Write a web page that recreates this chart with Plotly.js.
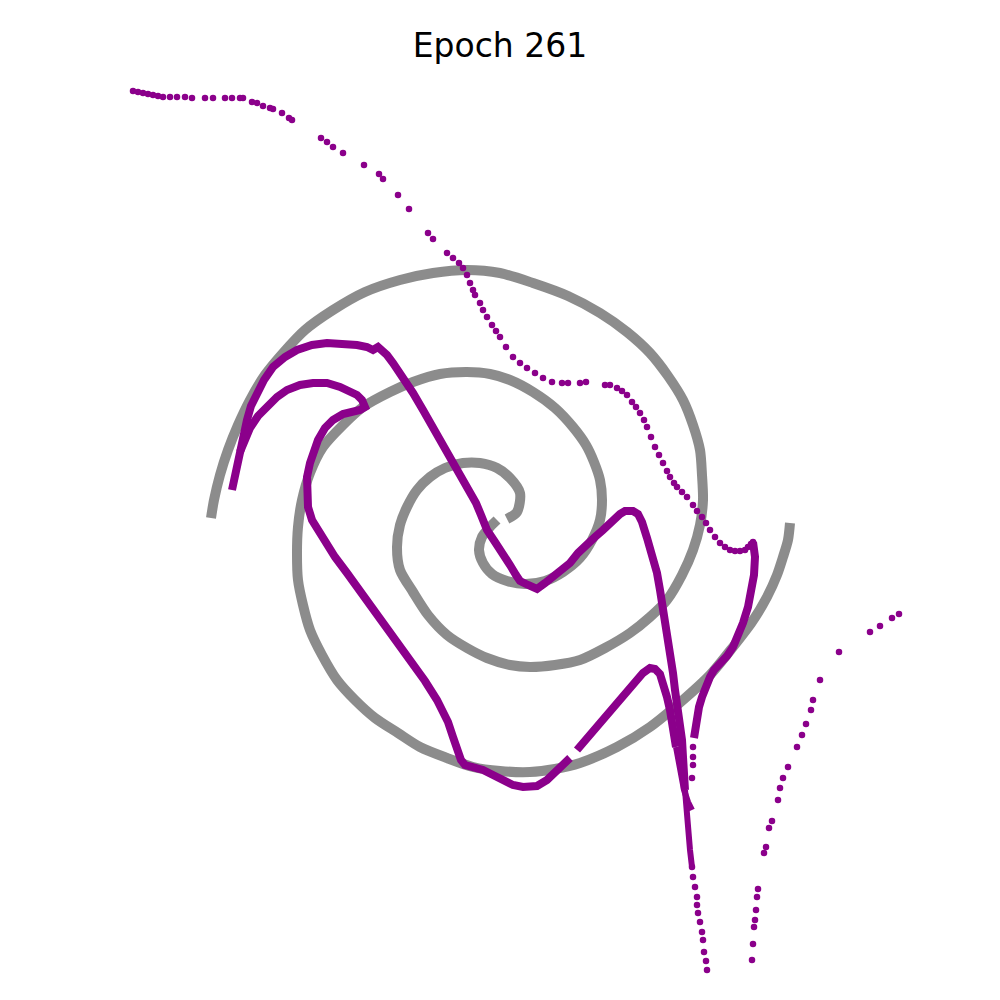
<!DOCTYPE html>
<html>
<head>
<meta charset="utf-8">
<script src="https://cdn.plot.ly/plotly-2.35.2.min.js"></script>
<style>html,body{margin:0;padding:0;background:#fff;}#chart{width:1000px;height:1000px;}</style>
</head>
<body>
<div id="chart"></div>
<script>
// ---- Data ----
const titleText = "Epoch 261";

// Gray spiral, arm A (center -> outer left end)
const armAx = [0.07,0.17,0.20,0.10,-0.03,-0.20,-0.37,-0.55,-0.70,-0.83,-0.93,-1.00,-1.03,-1.00,-0.87,-0.72,-0.53,-0.33,-0.13,0.10,0.30,0.55,0.80,1.05,1.30,1.50,1.67,1.82,1.93,2.00,2.03,2.02,2.00,1.93,1.83,1.68,1.50,1.27,1.00,0.68,0.33,0.00,-0.33,-0.67,-1.00,-1.35,-1.67,-1.95,-2.17,-2.35,-2.50,-2.62,-2.72,-2.80,-2.86,-2.89];
const armAy = [-0.19,-0.12,0.07,0.22,0.32,0.37,0.37,0.32,0.23,0.10,-0.07,-0.25,-0.47,-0.70,-0.92,-1.15,-1.35,-1.48,-1.58,-1.65,-1.67,-1.65,-1.60,-1.48,-1.33,-1.17,-1.00,-0.75,-0.50,-0.25,0.00,0.25,0.50,0.75,1.00,1.24,1.47,1.68,1.87,2.04,2.17,2.27,2.30,2.27,2.20,2.08,1.90,1.70,1.47,1.25,1.00,0.75,0.50,0.25,0.00,-0.18];

// Gray spiral, arm B (center -> outer right end)
const armBx = [-0.03,-0.10,-0.18,-0.21,-0.17,-0.08,0.07,0.25,0.45,0.63,0.80,0.92,1.00,1.02,1.00,0.94,0.86,0.73,0.55,0.33,0.10,-0.10,-0.33,-0.60,-0.87,-1.10,-1.37,-1.57,-1.77,-1.90,-1.98,-2.02,-2.03,-2.02,-1.97,-1.90,-1.78,-1.63,-1.45,-1.25,-1.02,-0.80,-0.53,-0.27,0.00,0.30,0.55,0.80,1.17,1.50,1.83,2.10,2.33,2.52,2.67,2.77,2.83,2.88,2.90];
const armBy = [-0.20,-0.27,-0.37,-0.50,-0.63,-0.74,-0.81,-0.84,-0.81,-0.72,-0.58,-0.40,-0.20,0.00,0.20,0.38,0.55,0.73,0.92,1.08,1.20,1.26,1.28,1.26,1.18,1.08,0.93,0.75,0.53,0.27,0.00,-0.27,-0.53,-0.80,-1.05,-1.30,-1.55,-1.80,-2.00,-2.18,-2.33,-2.47,-2.58,-2.67,-2.71,-2.72,-2.69,-2.63,-2.47,-2.27,-2.00,-1.75,-1.47,-1.22,-0.97,-0.75,-0.57,-0.40,-0.23];

// Purple output: sparse top trail (dots)
const trailX = [-3.67,-3.62,-3.57,-3.52,-3.47,-3.42,-3.37,-3.30,-3.23,-3.15,-3.08,-2.95,-2.87,-2.75,-2.68,-2.60,-2.57,-2.48,-2.43,-2.37,-2.30,-2.27,-2.18,-2.11,-2.08,-1.79,-1.73,-1.67,-1.57,-1.36,-1.21,-1.17,-1.02,-0.91,-0.72,-0.67,-0.53,-0.47,-0.41,-0.37,-0.33,-0.30,-0.27,-0.25,-0.20,-0.17,-0.13,-0.08,-0.04,0.00,0.06,0.13,0.20,0.27,0.35,0.43,0.52,0.62,0.68,0.80,0.86,1.05,1.10,1.17,1.22,1.27,1.32,1.36,1.40,1.44,1.47,1.51,1.55,1.59,1.63,1.67,1.70,1.74,1.77,1.82,1.87,1.93,1.97,2.02,2.06,2.10,2.15,2.20,2.25,2.30,2.35,2.40,2.45,2.48,2.51,2.53];
const trailY = [4.09,4.08,4.07,4.06,4.05,4.04,4.03,4.03,4.03,4.03,4.02,4.02,4.02,4.02,4.02,4.02,4.02,3.98,3.97,3.94,3.92,3.91,3.87,3.82,3.80,3.62,3.58,3.53,3.47,3.35,3.26,3.21,3.05,2.91,2.67,2.61,2.47,2.42,2.37,2.32,2.25,2.17,2.10,2.05,1.97,1.90,1.83,1.75,1.69,1.63,1.53,1.43,1.37,1.32,1.27,1.22,1.18,1.17,1.17,1.17,1.18,1.15,1.15,1.12,1.09,1.05,0.98,0.93,0.87,0.80,0.73,0.63,0.53,0.45,0.37,0.29,0.23,0.17,0.13,0.08,0.03,-0.05,-0.11,-0.17,-0.23,-0.30,-0.37,-0.43,-0.47,-0.50,-0.51,-0.51,-0.50,-0.47,-0.44,-0.42];

// Purple: hook stroke (dense) and its dotted tail
const hookX = [2.53,2.55,2.54,2.52,2.48,2.43,2.38,2.33,2.27,2.20,2.14,2.10,2.05,2.02,1.99,1.97,1.95,1.94];
const hookY = [-0.42,-0.57,-0.75,-0.90,-1.07,-1.23,-1.37,-1.47,-1.56,-1.63,-1.70,-1.77,-1.87,-1.97,-2.07,-2.17,-2.30,-2.38];
const hookTailX = [1.93,1.93,1.93,1.92];
const hookTailY = [-2.47,-2.57,-2.65,-2.78];

// Purple: main stroke (outer left loop -> centre -> long spike)
const mainX = [-2.68,-2.65,-2.63,-2.60,-2.57,-2.53,-2.49,-2.43,-2.36,-2.27,-2.15,-2.03,-1.88,-1.73,-1.58,-1.43,-1.33,-1.27,-1.22,-1.19,-1.13,-1.07,-1.00,-0.87,-0.77,-0.67,-0.57,-0.47,-0.37,-0.30,-0.24,-0.19,-0.13,-0.05,0.03,0.10,0.16,0.20,0.28,0.37,0.45,0.53,0.62,0.70,0.78,0.87,0.95,1.03,1.12,1.20,1.25,1.33,1.38,1.42,1.47,1.52,1.57,1.60,1.63,1.66,1.68,1.70,1.73,1.75,1.78,1.80,1.82,1.83,1.84,1.85];
const mainY = [0.10,0.25,0.37,0.47,0.63,0.80,0.94,1.07,1.20,1.33,1.43,1.50,1.55,1.57,1.57,1.55,1.53,1.50,1.53,1.51,1.45,1.37,1.27,1.07,0.90,0.73,0.55,0.38,0.23,0.10,-0.03,-0.15,-0.30,-0.42,-0.53,-0.65,-0.75,-0.81,-0.85,-0.89,-0.83,-0.77,-0.70,-0.63,-0.53,-0.43,-0.37,-0.30,-0.21,-0.14,-0.11,-0.11,-0.14,-0.22,-0.38,-0.55,-0.73,-0.90,-1.07,-1.25,-1.40,-1.57,-1.73,-1.90,-2.07,-2.23,-2.40,-2.57,-2.70,-2.90];
// thinner lower part of the long spike
const spikeLowX = [1.85,1.86,1.87,1.90,1.92];
const spikeLowY = [-2.90,-3.05,-3.27,-3.50,-3.67];
const spikeDotsX = [1.92,1.93,1.95,1.97,1.97,1.98,2.00,2.02,2.03,2.04,2.06,2.07];
const spikeDotsY = [-3.67,-3.77,-3.87,-3.97,-4.05,-4.13,-4.22,-4.32,-4.40,-4.52,-4.61,-4.70];

// Purple: inner left loop -> bottom curve -> second spike
const innerX = [-2.60,-2.56,-2.50,-2.42,-2.33,-2.23,-2.13,-2.00,-1.87,-1.73,-1.60,-1.50,-1.43,-1.38,-1.35,-1.40,-1.48,-1.57,-1.67,-1.75,-1.82,-1.87,-1.90,-1.93,-1.93,-1.92,-1.88,-1.82,-1.77,-1.65,-1.53,-1.43,-1.33,-1.22,-1.10,-0.98,-0.87,-0.75,-0.63,-0.57,-0.52,-0.47,-0.43,-0.39,-0.35,-0.27,-0.17,-0.07,0.03,0.13,0.23,0.37,0.47,0.55,0.60,0.66,0.70,null,0.77,0.87,0.97,1.08,1.20,1.32,1.43,1.50,1.55,1.60,1.64,1.67,1.70,1.72,1.76];
const innerY = [0.48,0.60,0.72,0.84,0.94,1.03,1.10,1.15,1.17,1.17,1.13,1.09,1.05,1.00,0.93,0.90,0.88,0.86,0.80,0.72,0.60,0.48,0.37,0.23,0.10,-0.07,-0.20,-0.30,-0.40,-0.57,-0.73,-0.87,-1.00,-1.15,-1.30,-1.47,-1.63,-1.81,-2.00,-2.10,-2.22,-2.37,-2.50,-2.60,-2.65,-2.67,-2.70,-2.75,-2.80,-2.85,-2.87,-2.86,-2.80,-2.73,-2.67,-2.61,-2.58,null,-2.50,-2.38,-2.27,-2.14,-2.00,-1.86,-1.73,-1.68,-1.69,-1.74,-1.85,-1.97,-2.10,-2.23,-2.47];
const innerLowX = [1.76,1.80,1.84,1.88,1.92];
const innerLowY = [-2.47,-2.73,-2.90,-3.02,-3.10];

// Purple: sparse bottom-right trail (dots)
const rightX = [3.99,3.92,3.80,3.70,3.39,3.20,3.13,3.11,3.06,3.02,2.97,2.88,2.83,2.80,2.78,2.72,2.69,2.66,2.64,2.58,2.57,2.56,2.55,2.54,2.53,2.52];
const rightY = [-1.14,-1.18,-1.26,-1.32,-1.52,-1.80,-2.00,-2.10,-2.24,-2.35,-2.47,-2.67,-2.78,-2.88,-3.00,-3.21,-3.28,-3.47,-3.53,-3.89,-3.97,-4.10,-4.20,-4.27,-4.44,-4.60];

// ---- Styles ----
const GRAY = 'rgba(128,128,128,0.9)';
const PURPLE = '#8b008b';
const spl = {shape: 'spline', smoothing: 0.8};

const traces = [
  {x: armAx, y: armAy, mode: 'lines', line: Object.assign({color: GRAY, width: 10}, spl), hoverinfo: 'skip'},
  {x: armBx, y: armBy, mode: 'lines', line: Object.assign({color: GRAY, width: 10}, spl), hoverinfo: 'skip'},
  {x: trailX, y: trailY, mode: 'markers', marker: {color: PURPLE, size: 6.5}, hoverinfo: 'skip'},
  {x: hookX, y: hookY, mode: 'lines', line: {color: PURPLE, width: 8}, hoverinfo: 'skip'},
  {x: hookTailX, y: hookTailY, mode: 'markers', marker: {color: PURPLE, size: 6.5}, hoverinfo: 'skip'},
  {x: mainX, y: mainY, mode: 'lines', line: {color: PURPLE, width: 8}, hoverinfo: 'skip'},
  {x: spikeLowX, y: spikeLowY, mode: 'lines', line: {color: PURPLE, width: 6}, hoverinfo: 'skip'},
  {x: spikeDotsX, y: spikeDotsY, mode: 'markers', marker: {color: PURPLE, size: 6.5}, hoverinfo: 'skip'},
  {x: innerX, y: innerY, mode: 'lines', line: {color: PURPLE, width: 8}, connectgaps: false, hoverinfo: 'skip'},
  {x: innerLowX, y: innerLowY, mode: 'lines', line: {color: PURPLE, width: 6}, hoverinfo: 'skip'},
  {x: rightX, y: rightY, mode: 'markers', marker: {color: PURPLE, size: 6.5}, hoverinfo: 'skip'}
];

const layout = {
  width: 1000, height: 1000,
  margin: {l: 0, r: 0, t: 0, b: 0},
  paper_bgcolor: '#ffffff', plot_bgcolor: '#ffffff',
  showlegend: false,
  title: {text: titleText, font: {family: 'DejaVu Sans', size: 33, color: '#000000'},
          x: 0.5, xanchor: 'center', y: 0.955, yref: 'container', yanchor: 'middle'},
  xaxis: {range: [-5, 5], visible: false, fixedrange: true},
  yaxis: {range: [-5, 5], visible: false, fixedrange: true}
};

Plotly.newPlot('chart', traces, layout, {displayModeBar: false, staticPlot: true});
</script>
</body>
</html>
